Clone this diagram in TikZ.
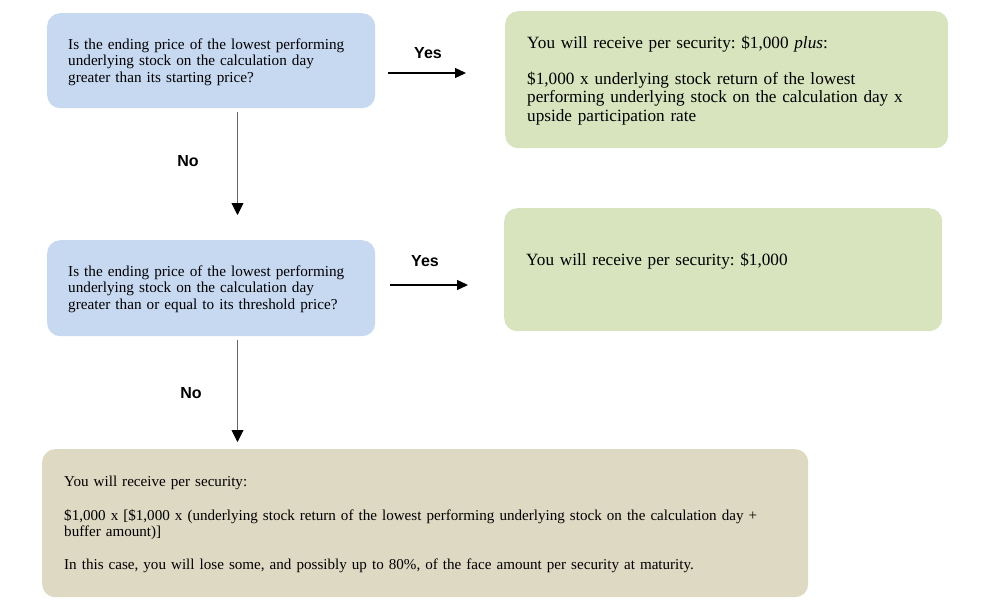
\documentclass[tikz,border=0pt]{standalone}
\usepackage{xcolor}
\usepackage{fontspec}
\setmainfont{Liberation Serif}
\newfontfamily\labelfont{Liberation Sans}
\usetikzlibrary{arrows.meta}

\definecolor{qblue}{HTML}{C6D9F1}
\definecolor{agreen}{HTML}{D7E4BD}
\definecolor{atan}{HTML}{DDD9C3}

\begin{document}
\frenchspacing
\begin{tikzpicture}[x=1pt,y=-1pt,
    box/.style={rounded corners=13pt, draw=none, anchor=north west, inner sep=0pt},
    qtext/.style={anchor=base west, inner sep=0pt, text width=320pt, align=left,
      font=\fontsize{15.2}{16.5}\selectfont},
    atext/.style={anchor=base west, inner sep=0pt, text width=430pt, align=left,
      font=\fontsize{17.2}{18.5}\selectfont},
    btext/.style={anchor=base west, inner sep=0pt, text width=760pt, align=left,
      font=\fontsize{15.1}{16.5}\selectfont},
    answer/.style={font=\labelfont\bfseries\fontsize{16}{19}\selectfont, inner sep=0pt},
    yesarrow/.style={line width=1.4pt, -{Triangle[length=11pt,width=10pt]}},
    noarrow/.style={line width=0.9pt, draw=black!60, -{Triangle[length=12pt,width=12pt,color=black,fill=black]}}]
  \useasboundingbox (0,0) rectangle (993,613);

  % boxes
  \node[box, fill=qblue, minimum width=328pt, minimum height=95pt] (q1) at (47,13) {};
  \node[box, fill=agreen, minimum width=443pt, minimum height=137pt] (a1) at (505,11) {};
  \node[box, fill=qblue, minimum width=328pt, minimum height=96pt] (q2) at (47,240) {};
  \node[box, fill=agreen, minimum width=438pt, minimum height=123pt] (a2) at (504,208) {};
  \node[box, fill=atan, minimum width=766pt, minimum height=148pt] (a3) at (42,449) {};

  % texts
  \node[qtext] (q1txt) at (68,49) {Is the ending price of the lowest performing\\
    underlying stock on the calculation day\\
    greater than its starting price?};
  \node[atext] (a1txt) at (527,48) {You will receive per security: \$1,000 \textit{plus}:\\[17.5pt]
    \$1,000 x underlying stock return of the lowest\\
    performing underlying stock on the calculation day x\\
    upside participation rate};
  \node[qtext] (q2txt) at (68,276) {Is the ending price of the lowest performing\\
    underlying stock on the calculation day\\
    greater than or equal to its threshold price?};
  \node[atext] (a2txt) at (526,265) {You will receive per security: \$1,000};
  \node[btext] (a3txt) at (64,486) {You will receive per security:\\[17.5pt]
    \$1,000 x [\$1,000 x (underlying stock return of the lowest performing underlying stock on the calculation day +\\
    buffer amount)]\\[16.5pt]
    In this case, you will lose some, and possibly up to 80\%, of the face amount per security at maturity.};

  % arrows
  \coordinate (yes1s) at (388,73);
  \coordinate (yes1e) at (466,73);
  \coordinate (yes2s) at (390,285);
  \coordinate (yes2e) at (468,285);
  \coordinate (no1s) at (237.5,112);
  \coordinate (no1e) at (237.5,215);
  \coordinate (no2s) at (237.5,340);
  \coordinate (no2e) at (237.5,442);
  \draw[yesarrow] (yes1s) -- (yes1e);
  \draw[yesarrow] (yes2s) -- (yes2e);
  \draw[noarrow] (no1s) -- (no1e);
  \draw[noarrow] (no2s) -- (no2e);

  \node[answer] (yes1) at (428,53) {Yes};
  \node[answer] (yes2) at (425,261) {Yes};
  \node[answer] (no1) at (188,161) {No};
  \node[answer] (no2) at (191,393) {No};
\end{tikzpicture}
\end{document}
